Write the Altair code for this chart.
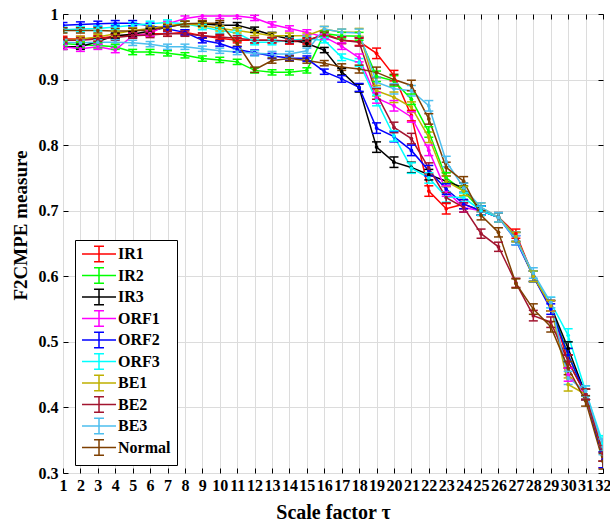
import altair as alt
import pandas as pd

tau = list(range(1, 33))
y_ticks = [0.3, 0.4, 0.5, 0.6, 0.7, 0.8, 0.9, 1.0]
series_names = ["IR1", "IR2", "IR3", "ORF1", "ORF2", "ORF3", "BE1", "BE2", "BE3", "Normal"]
colors = ["#FF0000", "#00FF00", "#000000", "#FF00FF", "#0000FF", "#00FFFF",
          "#BFB000", "#A2142F", "#4DBEEE", "#7E3F00"]

IR1 = [0.962, 0.962, 0.963, 0.966, 0.968, 0.970, 0.970, 0.972, 0.967, 0.963,
       0.960, 0.960, 0.960, 0.958, 0.958, 0.970, 0.960, 0.958, 0.940, 0.906,
       0.845, 0.730, 0.703, 0.710, 0.700, 0.690, 0.665, 0.600, 0.555, 0.470, 0.420, 0.320]
IR2 = [0.955, 0.953, 0.952, 0.950, 0.942, 0.942, 0.940, 0.937, 0.932, 0.930,
       0.927, 0.914, 0.911, 0.911, 0.914, 0.970, 0.967, 0.966, 0.905, 0.898,
       0.870, 0.820, 0.750, 0.730, 0.700, 0.690, 0.660, 0.600, 0.555, 0.480, 0.420, 0.330]
IR3 = [0.950, 0.950, 0.958, 0.967, 0.969, 0.974, 0.980, 0.985, 0.985, 0.983,
       0.983, 0.976, 0.968, 0.962, 0.955, 0.945, 0.912, 0.887, 0.797, 0.774,
       0.766, 0.755, 0.745, 0.735, 0.700, 0.690, 0.660, 0.600, 0.555, 0.490, 0.420, 0.330]
ORF1 = [0.950, 0.947, 0.950, 0.945, 0.967, 0.970, 0.985, 0.993, 0.997, 0.997,
        0.997, 0.994, 0.984, 0.978, 0.972, 0.965, 0.951, 0.933, 0.872, 0.860,
        0.843, 0.792, 0.730, 0.705, 0.700, 0.690, 0.660, 0.600, 0.555, 0.450, 0.420, 0.330]
ORF2 = [0.983, 0.984, 0.985, 0.986, 0.986, 0.982, 0.977, 0.972, 0.960, 0.955,
        0.946, 0.941, 0.936, 0.933, 0.932, 0.912, 0.901, 0.888, 0.826, 0.813,
        0.792, 0.761, 0.733, 0.710, 0.700, 0.690, 0.655, 0.600, 0.550, 0.480, 0.420, 0.320]
ORF3 = [0.976, 0.977, 0.978, 0.980, 0.983, 0.985, 0.987, 0.985, 0.980, 0.975,
        0.971, 0.957, 0.957, 0.960, 0.962, 0.960, 0.934, 0.926, 0.868, 0.814,
        0.765, 0.750, 0.721, 0.720, 0.700, 0.690, 0.660, 0.600, 0.560, 0.510, 0.425, 0.345]
BE1 = [0.960, 0.962, 0.965, 0.970, 0.975, 0.978, 0.982, 0.985, 0.983, 0.978,
       0.975, 0.971, 0.967, 0.967, 0.967, 0.977, 0.972, 0.972, 0.883, 0.873,
       0.858, 0.812, 0.745, 0.730, 0.705, 0.690, 0.660, 0.600, 0.555, 0.435, 0.420, 0.330]
BE2 = [0.960, 0.960, 0.962, 0.964, 0.967, 0.968, 0.970, 0.970, 0.967, 0.965,
       0.963, 0.960, 0.960, 0.959, 0.960, 0.968, 0.960, 0.957, 0.878, 0.827,
       0.810, 0.765, 0.720, 0.705, 0.665, 0.645, 0.590, 0.540, 0.530, 0.470, 0.420, 0.330]
BE3 = [0.957, 0.956, 0.957, 0.957, 0.956, 0.954, 0.950, 0.950, 0.947, 0.944,
       0.942, 0.940, 0.939, 0.939, 0.944, 0.977, 0.972, 0.971, 0.896, 0.886,
       0.883, 0.860, 0.775, 0.735, 0.705, 0.690, 0.655, 0.605, 0.560, 0.445, 0.425, 0.340]
Normal = [0.975, 0.975, 0.975, 0.974, 0.974, 0.976, 0.980, 0.985, 0.986, 0.986,
          0.955, 0.915, 0.929, 0.932, 0.929, 0.925, 0.919, 0.916, 0.911, 0.900,
          0.891, 0.840, 0.766, 0.745, 0.693, 0.667, 0.589, 0.550, 0.523, 0.460, 0.410, 0.318]
err = [0.004, 0.004, 0.004, 0.004, 0.004, 0.004, 0.004, 0.004, 0.004, 0.004,
       0.004, 0.004, 0.004, 0.004, 0.004, 0.004, 0.005, 0.006, 0.008, 0.008,
       0.008, 0.008, 0.008, 0.007, 0.007, 0.007, 0.007, 0.008, 0.008, 0.010, 0.008, 0.012]

all_series = [IR1, IR2, IR3, ORF1, ORF2, ORF3, BE1, BE2, BE3, Normal]
rows = []
for idx, (name, vals) in enumerate(zip(series_names, all_series)):
    for t, v, e in zip(tau, vals, err):
        rows.append({"series": name, "order": idx, "tau": t, "value": v,
                     "lo": v - e, "hi": v + e})
df = pd.DataFrame(rows)

FONT = "Liberation Serif"
xs = alt.Scale(domain=[1, 32], nice=False, zero=False)
ys = alt.Scale(domain=[0.3, 1.0], nice=False, zero=False)

# legend glyph: line with error bar, caps and a dot (units of 7 px)
legend_path = ("M-1,0H3.86M1.43,-1.1V1.1M0.72,-1.1H2.14M0.72,1.1H2.14"
               "M1.2,0H1.66M1.43,-0.22V0.22")
color_enc = alt.Color(
    "series:N",
    scale=alt.Scale(domain=series_names, range=colors),
    sort=series_names,
    legend=alt.Legend(
        title=None, orient="none", legendX=12, legendY=226,
        symbolType=legend_path, symbolSize=196, symbolStrokeWidth=1.5,
        labelFont=FONT, labelFontSize=16, labelFontWeight="bold", labelColor="black",
        labelOffset=21, rowPadding=-0.5, padding=6,
        strokeColor="black", fillColor="white", cornerRadius=0,
    ),
)

x_axis = alt.Axis(
    values=tau, format="d", orient="bottom", offset=-5, tickSize=5, tickColor="black",
    domain=False, grid=True, gridColor="#DCDCDC", gridWidth=1,
    labelFont=FONT, labelFontSize=16, labelFontWeight="bold", labelColor="black",
    labelPadding=4, labelOverlap=False, labelFlush=False,
    title="Scale factor τ", titleFont=FONT, titleFontSize=20, titleFontWeight="bold",
    titleColor="black", titlePadding=9,
)
y_axis = alt.Axis(
    values=y_ticks, format=".1~f", orient="left", offset=-5, tickSize=5, tickColor="black",
    domain=False, grid=True, gridColor="#DCDCDC", gridWidth=1,
    labelFont=FONT, labelFontSize=16, labelFontWeight="bold", labelColor="black",
    labelPadding=5,
    title="F2CMPE measure", titleFont=FONT, titleFontSize=19, titleFontWeight="bold",
    titleColor="black", titleX=-48, titleY=211, titleAlign="center",
    titleBaseline="middle", titleAngle=270,
)
x_top = alt.Axis(values=tau, orient="top", offset=-5, tickSize=5, tickColor="black",
                 domain=False, grid=False, labels=False, title=None)
y_right = alt.Axis(values=y_ticks, orient="right", offset=-5, tickSize=5, tickColor="black",
                   domain=False, grid=False, labels=False, title=None)

base = alt.Chart(df)

lines = base.mark_line(strokeWidth=1.5, clip=True).encode(
    x=alt.X("tau:Q", scale=xs, axis=x_axis),
    y=alt.Y("value:Q", scale=ys, axis=y_axis),
    color=color_enc,
    detail="series:N",
)
frame_axes = base.mark_point(opacity=0).encode(
    x=alt.X("tau:Q", scale=xs, axis=x_top),
    y=alt.Y("value:Q", scale=ys, axis=y_right),
)
bars = base.mark_rule(strokeWidth=1.5, clip=True).encode(
    x=alt.X("tau:Q", scale=xs, axis=None),
    y=alt.Y("lo:Q", scale=ys, axis=None),
    y2="hi:Q",
    color=color_enc,
)
caps_lo = base.mark_tick(orient="horizontal", size=9, thickness=1.5, opacity=1, clip=True).encode(
    x=alt.X("tau:Q", scale=xs, axis=None),
    y=alt.Y("lo:Q", scale=ys, axis=None),
    color=color_enc,
)
caps_hi = base.mark_tick(orient="horizontal", size=9, thickness=1.5, opacity=1, clip=True).encode(
    x=alt.X("tau:Q", scale=xs, axis=None),
    y=alt.Y("hi:Q", scale=ys, axis=None),
    color=color_enc,
)
pts = base.mark_circle(size=14, opacity=1, clip=True).encode(
    x=alt.X("tau:Q", scale=xs, axis=None),
    y=alt.Y("value:Q", scale=ys, axis=None),
    color=color_enc,
)

chart = alt.layer(lines, frame_axes, bars, caps_lo, caps_hi, pts).resolve_axis(
    x="independent", y="independent"
).properties(
    width=540, height=459,
    autosize=alt.AutoSizeParams(type="none"),
    padding={"left": 63, "top": 14, "right": 7, "bottom": 54},
    background="white",
).configure_view(
    stroke="black", strokeWidth=1
)

chart.save("out.html", embed_options={"renderer": "svg", "actions": False})
